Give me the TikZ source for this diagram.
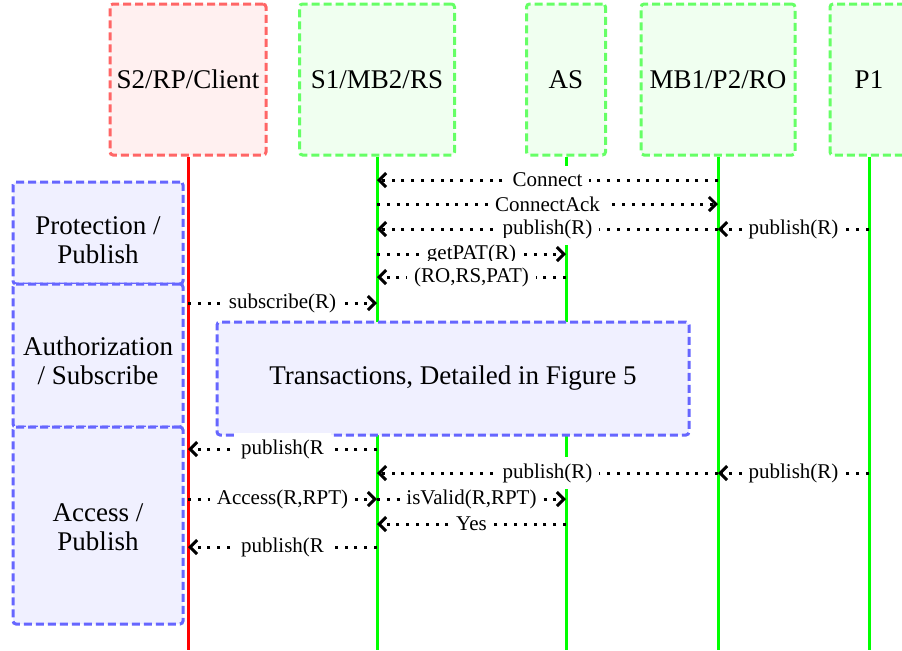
\documentclass[tikz,border=0pt]{standalone}
\usepackage{fontspec}
\setmainfont{Liberation Serif}
\usetikzlibrary{arrows.meta}

\begin{document}
\begin{tikzpicture}[x=0.5pt,y=-0.5pt]
	\tikzstyle{actor}=[draw, line width=1.5pt, dash pattern=on 4pt off 2pt, rounded corners=1.5pt, minimum height=75.5pt, font=\fontsize{13.5}{14.5}\selectfont]
	\tikzstyle{phase}=[actor, draw=blue!60, fill=blue!6, align=center]
	\tikzstyle{life}=[line width=1.5pt]
	\tikzstyle{msg}=[line width=1.5pt, dash pattern=on 1.5pt off 3.4pt, -{Straight Barb[length=3.5pt,width=7pt]}]
	\tikzstyle{lbl}=[fill=white, font=\fontsize{10.5}{12}\selectfont]

	\useasboundingbox (0,0) rectangle (902,650);

	 \node [actor, draw=red!60, fill=red!6, minimum width=78pt] (client) at (188,79.5) {S2/RP/Client};
	 \node [actor, draw=green!60, fill=green!6, minimum width=77.5pt] (rs) at (377,79.5) {S1/MB2/RS};
	 \node [actor, draw=green!60, fill=green!6, minimum width=39.5pt] (as) at (566,79.5) {AS};
	 \node [actor, draw=green!60, fill=green!6, minimum width=77pt] (ro) at (718,79.5) {MB1/P2/RO};
	 \node [actor, draw=green!60, fill=green!6, minimum width=39pt] (p1) at (869,79.5) {P1};

	 \coordinate (bot) at (0,650);
	 \draw[life, red] (client.south) -- (client |- bot);
	 \draw[life, green] (rs.south) -- (rs |- bot);
	 \draw[life, green] (as.south) -- (as |- bot);
	 \draw[life, green] (ro.south) -- (ro |- bot);
	 \draw[life, green] (p1.south) -- (p1 |- bot);

	 \node [phase, minimum width=85pt, minimum height=51pt] (prot) at (98,233) {\begin{tabular}{@{}c@{}}\rule{0pt}{20pt}Protection /\\Publish\end{tabular}};
	 \node [phase, minimum width=85pt, minimum height=71.5pt] (auth) at (98,355.5) {\begin{tabular}{@{}c@{}}\rule{0pt}{19pt}Authorization\\/ Subscribe\end{tabular}};
	 \node [phase, minimum width=85pt, minimum height=98.5pt] (acc) at (98,525.5) {\begin{tabular}{@{}c@{}}\rule{0pt}{15pt}Access /\\Publish\end{tabular}};
	 \node [phase, minimum width=236pt, minimum height=56.5pt] (trans) at (453,378.5) {Transactions, Detailed in Figure 5};

	 \coordinate (m1) at (0,180);
	 \coordinate (m2) at (0,204);
	 \coordinate (m3) at (0,229);
	 \coordinate (m4) at (0,254);
	 \coordinate (m5) at (0,277);
	 \coordinate (m6) at (0,303);
	 \coordinate (m7) at (0,449);
	 \coordinate (m8) at (0,473);
	 \coordinate (m9) at (0,499);
	 \coordinate (m10) at (0,524);
	 \coordinate (m11) at (0,547);

	 \path[draw, msg] (ro |- m1) -- node[lbl] {Connect} (rs |- m1);
	 \path[draw, msg] (rs |- m2) -- node[lbl] {ConnectAck} (ro |- m2);
	 \path[draw, msg] (ro |- m3) -- node[lbl] {publish(R)} (rs |- m3);
	 \path[draw, msg] (p1 |- m3) -- node[lbl] {publish(R)} (ro |- m3);
	 \path[draw, msg] (rs |- m4) -- node[lbl] {getPAT(R)} (as |- m4);
	 \path[draw, msg] (as |- m5) -- node[lbl] {(RO,RS,PAT)} (rs |- m5);
	 \path[draw, msg] (client |- m6) -- node[lbl] {subscribe(R)} (rs |- m6);

	 \path[draw, msg] (rs |- m7) -- node[lbl] {publish(R} (client |- m7);
	 \path[draw, msg] (ro |- m8) -- node[lbl] {publish(R)} (rs |- m8);
	 \path[draw, msg] (p1 |- m8) -- node[lbl] {publish(R)} (ro |- m8);
	 \path[draw, msg] (client |- m9) -- node[lbl] {Access(R,RPT)} (rs |- m9);
	 \path[draw, msg] (rs |- m9) -- node[lbl] {isValid(R,RPT)} (as |- m9);
	 \path[draw, msg] (as |- m10) -- node[lbl] {Yes} (rs |- m10);
	 \path[draw, msg] (rs |- m11) -- node[lbl] {publish(R} (client |- m11);

\end{tikzpicture}
\end{document}
